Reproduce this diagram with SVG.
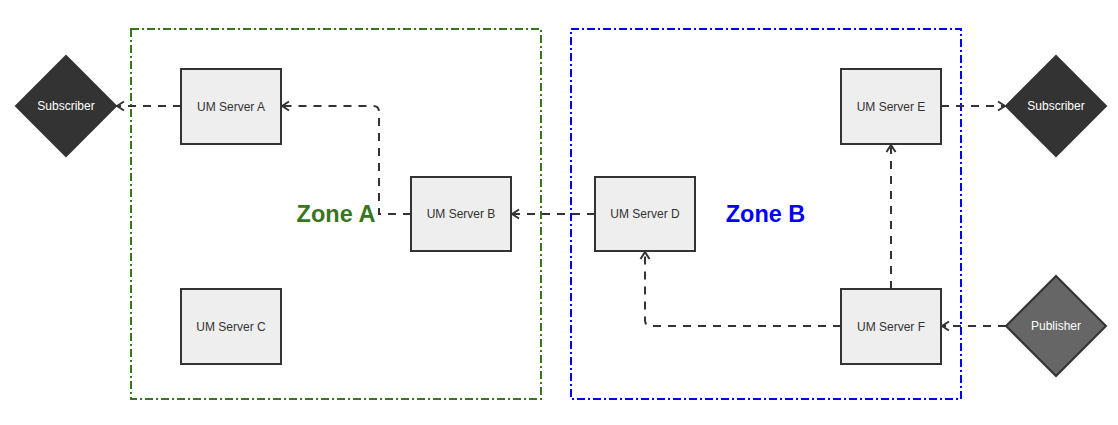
<svg xmlns="http://www.w3.org/2000/svg" width="1118" height="425" viewBox="0 0 1118 425">
<defs>
<style>
.zone{fill:none;stroke-width:2;stroke-dasharray:8 3 2 3}
.srv rect{fill:#eeeeee;stroke:#333333;stroke-width:2}
.srv text{font-family:"Liberation Sans",Arial,sans-serif;font-size:12px;fill:#333333;text-anchor:middle;dominant-baseline:central}
.dia text{font-family:"Liberation Sans",Arial,sans-serif;font-size:12px;fill:#ffffff;text-anchor:middle;dominant-baseline:central}
.dia polygon{stroke:#333333;stroke-width:2}
.zl{font-family:"Liberation Sans",Arial,sans-serif;font-size:23.5px;font-weight:bold;text-anchor:middle;dominant-baseline:central}
.conn path{fill:none;stroke:#333333;stroke-width:2;stroke-dasharray:8 7;marker-end:url(#arr)}
</style>
<marker id="arr" viewBox="0 0 12 12" refX="11" refY="6" markerWidth="12" markerHeight="12" markerUnits="userSpaceOnUse" orient="auto">
<path d="M4,1.5 L11,6 L4,10.5" fill="none" stroke="#333333" stroke-width="2"/>
</marker>
</defs>
<rect width="1118" height="425" fill="#ffffff"/>
<g id="zoneA">
<rect class="zone" x="131" y="29" width="410" height="370" stroke="#38761d"/>
<text class="zl" x="336" y="214" fill="#38761d">Zone A</text>
</g>
<g id="zoneB">
<rect class="zone" x="571" y="29" width="390" height="370" stroke="#0000ff"/>
<text class="zl" x="765.5" y="214" fill="#0000ff">Zone B</text>
</g>
<g class="conn" id="connectors">
<path d="M181,106 L117,106"/>
<path d="M411,214 L379,214 L379,112 Q379,106 373,106 L282,106"/>
<path d="M595,214 L512,214"/>
<path d="M941,106 L1005,106"/>
<path d="M891,289 L891,145"/>
<path d="M841,326 L651,326 Q645,326 645,320 L645,252"/>
<path d="M1006,326 L942,326"/>
</g>
<g class="srv" id="serverA"><rect x="181" y="69" width="100" height="75"/><text x="231" y="106.5">UM Server A</text></g>
<g class="srv" id="serverB"><rect x="411" y="177" width="100" height="74"/><text x="461" y="214">UM Server B</text></g>
<g class="srv" id="serverC"><rect x="181" y="289" width="100" height="75"/><text x="231" y="326.5">UM Server C</text></g>
<g class="srv" id="serverD"><rect x="595" y="177" width="100" height="74"/><text x="645" y="214">UM Server D</text></g>
<g class="srv" id="serverE"><rect x="841" y="69" width="100" height="75"/><text x="891" y="106.5">UM Server E</text></g>
<g class="srv" id="serverF"><rect x="841" y="289" width="100" height="75"/><text x="891" y="326.5">UM Server F</text></g>
<g class="dia" id="subscriberLeft"><polygon points="66,56 116,106 66,156 16,106" fill="#333333"/><text x="66" y="106">Subscriber</text></g>
<g class="dia" id="subscriberRight"><polygon points="1056,56 1106,106 1056,156 1006,106" fill="#333333"/><text x="1056" y="106">Subscriber</text></g>
<g class="dia" id="publisher"><polygon points="1056,276 1106,326 1056,376 1006,326" fill="#666666"/><text x="1056" y="326">Publisher</text></g>
</svg>
